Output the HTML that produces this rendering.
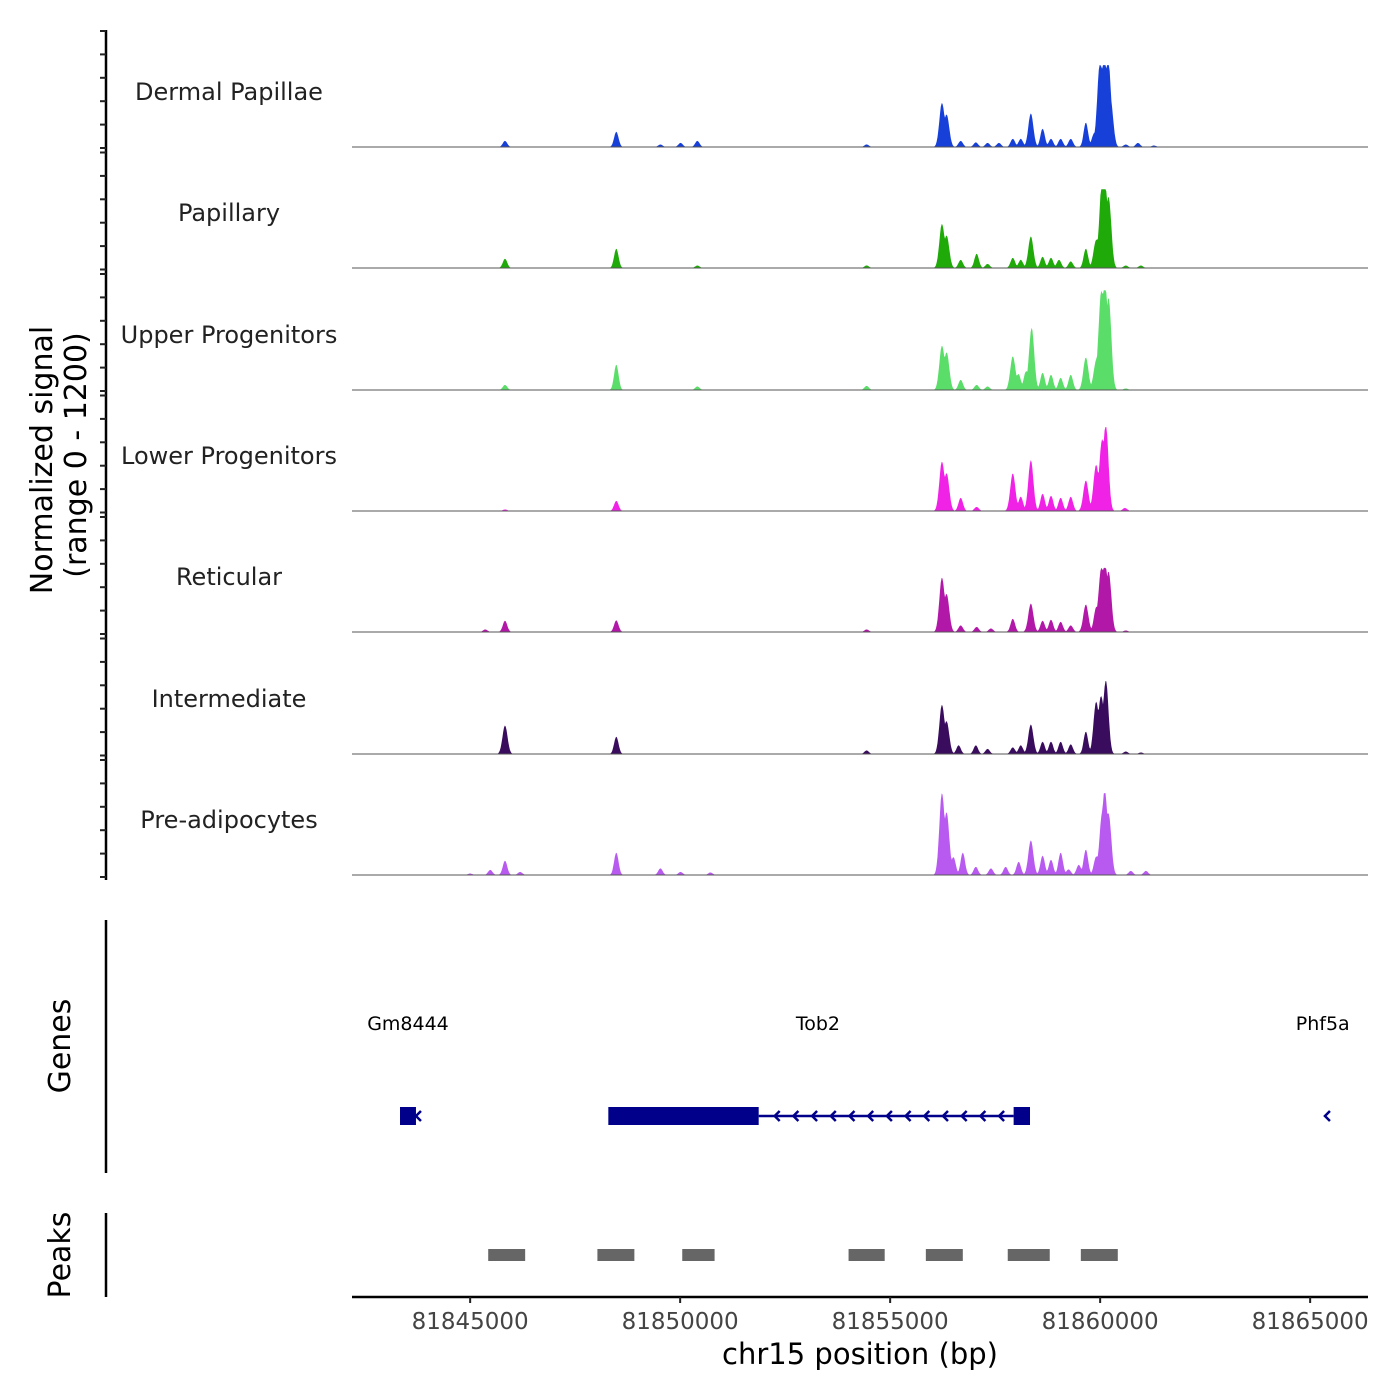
<!DOCTYPE html>
<html><head><meta charset="utf-8"><style>
html,body{margin:0;padding:0;background:#fff;}
svg{display:block;font-family:"DejaVu Sans","Liberation Sans",sans-serif;}
</style></head><body>
<svg id="chart" width="1400" height="1400" viewBox="0 0 1400 1400" xmlns="http://www.w3.org/2000/svg">
<rect width="1400" height="1400" fill="#fff"/>
<g id="tracks"></g>
<g id="yaxis"></g>
<g id="genes"></g>
<g id="peaks"></g>
<g id="xaxis"></g>
<text transform="translate(52,460) rotate(-90)" text-anchor="middle" font-size="30" fill="#000">Normalized signal</text>
<text transform="translate(86,455) rotate(-90)" text-anchor="middle" font-size="30" fill="#000">(range 0 - 1200)</text>
<text transform="translate(70,1046) rotate(-90)" text-anchor="middle" font-size="30" fill="#000">Genes</text>
<text transform="translate(70,1255) rotate(-90)" text-anchor="middle" font-size="30" fill="#000">Peaks</text>
<text x="860" y="1364" text-anchor="middle" font-size="29" fill="#000">chr15 position (bp)</text>
</svg>
<script>
const NS="http://www.w3.org/2000/svg";
// ---- data ----
const trackNames=["Dermal Papillae","Papillary","Upper Progenitors","Lower Progenitors","Reticular","Intermediate","Pre-adipocytes"];
const trackColors=["#1740d9","#1faa0a","#5bdd6a","#f022e6","#b218a8","#3a0c5e","#b85af0"];
// peak centers (kb) and values (0-1200) per track
const dpPos=[81845.83,81848.48,81849.53,81850.01,81850.41,81854.44,81856.23,81856.35,81856.68,81857.04,81857.32,81857.59,81857.92,81858.11,81858.35,81858.63,81858.83,81859.06,81859.30,81859.66,81859.85,81859.99,81860.09,81860.19,81860.26,81860.61,81860.90,81861.28];
const dpVal=[60,150,25,40,60,25,420,300,60,45,40,40,80,80,330,180,80,80,80,240,120,780,780,770,350,25,40,15];
const paPos=[81845.83,81848.48,81850.41,81854.44,81856.23,81856.35,81856.68,81857.06,81857.32,81857.92,81858.11,81858.35,81858.63,81858.83,81859.02,81859.30,81859.66,81859.90,81860.04,81860.11,81860.21,81860.61,81860.97];
const paVal=[90,190,25,25,420,300,80,140,40,100,80,310,110,100,80,65,190,260,750,720,630,25,25];
const upPos=[81845.83,81848.48,81850.41,81854.44,81856.23,81856.35,81856.68,81857.06,81857.32,81857.92,81858.06,81858.23,81858.37,81858.63,81858.83,81859.06,81859.30,81859.66,81859.90,81860.02,81860.11,81860.21,81860.61];
const upVal=[50,250,35,40,420,350,100,50,35,330,150,170,610,170,150,120,150,320,260,860,950,820,15];
const lpPos=[81845.83,81848.48,81856.23,81856.35,81856.68,81857.06,81857.92,81858.11,81858.35,81858.63,81858.83,81859.06,81859.30,81859.66,81859.90,81860.04,81860.14,81860.59];
const lpVal=[15,100,470,350,130,40,370,140,500,170,150,130,140,300,440,630,800,30];
const rePos=[81845.36,81845.83,81848.48,81854.44,81856.23,81856.35,81856.68,81857.06,81857.40,81857.92,81858.35,81858.63,81858.83,81859.06,81859.30,81859.66,81859.90,81860.02,81860.11,81860.21,81860.61];
const reVal=[25,110,115,25,520,350,65,50,35,130,280,110,120,100,65,270,220,560,610,540,15];
const inPos=[81845.83,81848.48,81854.44,81856.23,81856.35,81856.63,81857.04,81857.32,81857.92,81858.11,81858.35,81858.63,81858.83,81859.06,81859.30,81859.66,81859.90,81860.02,81860.14,81860.61,81860.97];
const inVal=[280,170,35,470,300,85,85,50,65,85,290,120,120,120,95,220,490,520,700,25,15];
const prPos=[81845.00,81845.48,81845.83,81846.19,81848.48,81849.53,81850.01,81850.72,81856.23,81856.35,81856.51,81856.73,81857.04,81857.40,81857.75,81858.06,81858.35,81858.63,81858.83,81859.06,81859.25,81859.49,81859.66,81859.90,81860.04,81860.11,81860.21,81860.73,81861.09];
const prVal=[15,50,140,30,220,65,30,25,780,580,170,220,80,65,80,130,340,190,150,220,55,100,250,170,500,720,540,40,40];
const posArrays=[dpPos,paPos,upPos,lpPos,rePos,inPos,prPos];
const valArrays=[dpVal,paVal,upVal,lpVal,reVal,inVal,prVal];
const xTicks=[81845000,81850000,81855000,81860000,81865000];
const peakStarts=[81845.43,81848.03,81850.05,81854.01,81855.85,81857.80,81859.54];
const peakEnds=[81846.31,81848.91,81850.82,81854.87,81856.73,81858.80,81860.42];
const geneNames=["Gm8444","Tob2","Phf5a"];
const geneLabelPos=[81843.52,81853.28,81865.30];
const exonStarts=[81843.33,81848.29,81857.94];
const exonEnds=[81843.71,81851.87,81858.33];
// ---- scales ----
const X0=352,X1=1368,KB0=81842.187,PXKB=42.0;
const xs=kb=>X0+(kb-KB0)*PXKB;
const baselines=[147,268,390,511,632,754,875];
const ys=(b,v)=>b-v*0.102;
function mk(tag,attrs,parent){const e=document.createElementNS(NS,tag);for(const k in attrs)e.setAttribute(k,attrs[k]);parent.appendChild(e);return e;}
const tracks=document.getElementById('tracks');
trackNames.forEach((name,i)=>{
  const g=mk('g',{},tracks);
  
  
  const b=baselines[i],P=posArrays[i],V=valArrays[i];
  const vmax=Math.max(...V);
  let d='M'+X0+','+b;
  for(let kb=KB0;kb<=KB0+(X1-X0)/PXKB;kb+=0.02){
    let mx=0,sm=0;
    for(let j=0;j<P.length;j++){const w=(V[j]>250?0.085:0.075);const t=(kb-P[j])/w;const c=V[j]*Math.exp(-t*t);sm+=c;if(c>mx)mx=c;}
    const v=Math.min(mx+0.3*(sm-mx),vmax*1.03);
    d+=' L'+xs(kb).toFixed(1)+','+ys(b,v).toFixed(1);
  }
  d+=' L'+X1+','+b+' Z';
  const a=mk('path',{d:d,fill:trackColors[i]},g);
  
  
  const l=mk('line',{x1:X0,x2:X1,y1:b,y2:b,stroke:'#555','stroke-width':1},g);
  
  
  const t=mk('text',{x:229,y:b-47,'text-anchor':'middle','font-size':24,fill:'#222'},g);
  t.textContent=name;
  
  
});
const ya=document.getElementById('yaxis');
mk('line',{x1:106,x2:106,y1:30,y2:880,stroke:'#000','stroke-width':2.5},ya);
for(let i=0;i<7;i++){const top=31+i*121.5;for(let k=0;k<6;k++){const y=top+k*23.4;
  const tk=mk('line',{x1:100,x2:106,y1:y,y2:y,stroke:'#222','stroke-width':2},ya);
  
  }}
// genes
const gg=document.getElementById('genes');
mk('line',{x1:106,x2:106,y1:920,y2:1173,stroke:'#000','stroke-width':2.5},gg);
geneNames.forEach((n,i)=>{const t=mk('text',{x:xs(geneLabelPos[i]),y:1030,'text-anchor':'middle','font-size':19,fill:'#000'},gg);t.textContent=n;
  
  });
const GY=1116,navy='#00008b';
mk('line',{x1:xs(exonEnds[1]),x2:xs(exonStarts[2]),y1:GY,y2:GY,stroke:navy,'stroke-width':2.5},gg);
for(let i=0;i<3;i++){const r=mk('rect',{x:xs(exonStarts[i]),y:GY-9,width:xs(exonEnds[i])-xs(exonStarts[i]),height:18,fill:navy},gg);
  
  }
function chev(x){mk('path',{d:`M${x+3},${GY-5} L${x-2},${GY} L${x+3},${GY+5}`,fill:'none',stroke:navy,'stroke-width':2.5},gg);}
for(let x=xs(exonEnds[1])+18;x<xs(exonStarts[2])-6;x+=18.7)chev(x);
chev(xs(exonEnds[0])+2);chev(xs(81865.4));
// peaks
const pg=document.getElementById('peaks');
mk('line',{x1:106,x2:106,y1:1213,y2:1297,stroke:'#000','stroke-width':2.5},pg);
peakStarts.forEach((s,i)=>{const r=mk('rect',{x:xs(s),y:1249,width:xs(peakEnds[i])-xs(s),height:12,fill:'#666'},pg);
  
  });
// x axis
const xa=document.getElementById('xaxis');
mk('line',{x1:352,x2:1368,y1:1297,y2:1297,stroke:'#000','stroke-width':2.5},xa);
xTicks.forEach(v=>{const x=xs(v/1000);mk('line',{x1:x,x2:x,y1:1297,y2:1303,stroke:'#222','stroke-width':2},xa);
  const t=mk('text',{x:x,y:1329,'text-anchor':'middle','font-size':23,fill:'#444'},xa);t.textContent=v;
  
  });
</script>
</body></html>
